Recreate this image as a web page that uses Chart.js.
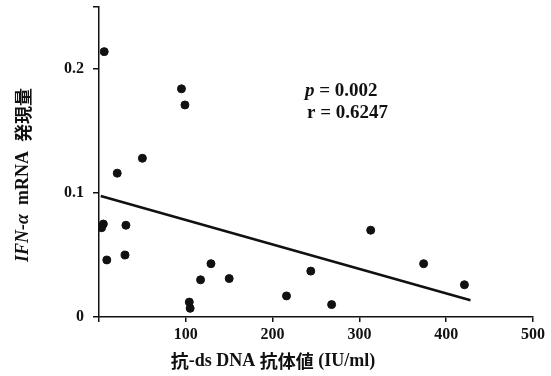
<!DOCTYPE html>
<html>
<head>
<meta charset="utf-8">
<script src="https://cdn.jsdelivr.net/npm/chart.js@4/dist/chart.umd.min.js"></script>
<style>
html,body{margin:0;padding:0;background:#fff;}
#wrap{width:551px;height:376px;}
</style>
</head>
<body>
<div id="wrap"><canvas id="c" width="551" height="376"></canvas></div>
<script>
// anti-ds DNA antibody titre (IU/ml)
const antiDsDNA = [6, 95, 99, 50, 21, 5, 3, 31, 9, 30, 104, 105, 117, 129, 150, 216, 244, 268, 313, 374, 421];
// IFN-alpha mRNA expression
const ifnAlpha = [0.214, 0.184, 0.171, 0.128, 0.116, 0.075, 0.072, 0.074, 0.046, 0.050, 0.012, 0.007, 0.030, 0.043, 0.031, 0.017, 0.037, 0.010, 0.070, 0.043, 0.026];
// regression line endpoints
const fitX = [2, 428];
const fitY = [0.0976, 0.0135];
const xTicks = [0, 100, 200, 300, 400, 500];
const yTicks = [0, 0.1, 0.2, 0.25];
const statsText = ['p = 0.002', 'r = 0.6247'];

const serif = '"Liberation Serif","Times New Roman",serif';
const cjk = '"Noto Sans CJK JP"';

const textPlugin = {
  id: 'texts',
  afterDraw(chart) {
    const ctx = chart.ctx;
    ctx.save();
    ctx.fillStyle = '#111';
    ctx.textBaseline = 'middle';
    // stats
    ctx.textAlign = 'left';
    ctx.font = 'italic bold 19px ' + serif;
    let x0 = 305, y0 = 91;
    ctx.fillText('p', x0, y0);
    let w = ctx.measureText('p').width;
    ctx.font = 'bold 19px ' + serif;
    ctx.fillText(statsText[0].slice(1), x0 + w, y0);
    ctx.fillText(statsText[1], 307, 113);
    // x title
    const xParts = [['抗', 'bold 18px ' + cjk], ['-ds DNA ', 'bold 18px ' + serif], ['抗体値', 'bold 18px ' + cjk], [' (IU/ml)', 'bold 18px ' + serif]];
    let total = 0;
    xParts.forEach(p => { ctx.font = p[1]; total += ctx.measureText(p[0]).width; });
    let cx = 273 - total / 2;
    xParts.forEach(p => { ctx.font = p[1]; ctx.fillText(p[0], cx, 361); cx += ctx.measureText(p[0]).width; });
    // y title
    ctx.translate(23, 175);
    ctx.rotate(-Math.PI / 2);
    const yParts = [['IFN-α', 'italic bold 18px ' + serif], ['  mRNA  ', 'bold 18px ' + serif], ['発現量', 'bold 18px ' + cjk]];
    total = 0;
    yParts.forEach(p => { ctx.font = p[1]; total += ctx.measureText(p[0]).width; });
    cx = -total / 2;
    yParts.forEach(p => { ctx.font = p[1]; ctx.fillText(p[0], cx, 0); cx += ctx.measureText(p[0]).width; });
    ctx.restore();
  }
};

new Chart(document.getElementById('c'), {
  type: 'scatter',
  data: {
    datasets: [
      {
        data: antiDsDNA.map((x, i) => ({x: x, y: ifnAlpha[i]})),
        backgroundColor: '#111',
        borderColor: '#111',
        pointRadius: 4,
        pointHoverRadius: 4
      },
      {
        data: fitX.map((x, i) => ({x: x, y: fitY[i]})),
        showLine: true,
        borderColor: '#111',
        borderWidth: 2.5,
        pointRadius: 0,
        fill: false
      }
    ]
  },
  options: {
    responsive: false,
    animation: false,
    devicePixelRatio: 1,
    layout: {padding: {top: 7, right: 18, left: 0, bottom: 0}},
    plugins: {legend: {display: false}, tooltip: {enabled: false}},
    scales: {
      x: {
        type: 'linear',
        min: 0, max: 500,
        afterBuildTicks(s) { s.ticks = xTicks.map(v => ({value: v})); },
        afterFit(s) { s.height = 59; },
        grid: {drawOnChartArea: false, drawTicks: true, tickLength: 5, color: '#111', lineWidth: 1.5},
        border: {color: '#111', width: 1.5},
        ticks: {
          color: '#111', padding: 3,
          font: {family: serif, size: 16, weight: 'bold'},
          callback: v => v === 0 ? '' : String(v)
        }
      },
      y: {
        type: 'linear',
        min: 0, max: 0.25,
        afterBuildTicks(s) { s.ticks = yTicks.map(v => ({value: v})); },
        afterFit(s) { s.width = 99; s.paddingTop = 0; s.paddingBottom = 0; },
        grid: {drawOnChartArea: false, drawTicks: true, tickLength: 6, color: '#111', lineWidth: 1.5},
        border: {color: '#111', width: 1.5},
        ticks: {
          color: '#111', padding: 9,
          font: {family: serif, size: 16, weight: 'bold'},
          callback: v => v === 0.25 ? '' : (v === 0 ? '0' : String(v))
        }
      }
    }
  },
  plugins: [textPlugin]
});
</script>
</body>
</html>
